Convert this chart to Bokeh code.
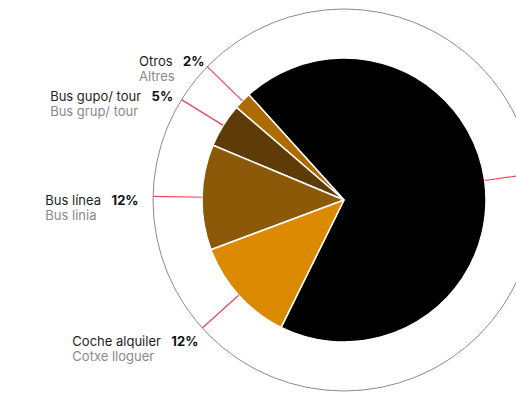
import math
import subprocess
from bokeh.plotting import figure
from bokeh.models import Range1d
from bokeh.core.properties import value
from bokeh.embed import file_html
from bokeh.resources import INLINE

# ---- data ----
names_es = ["Coche privado", "Otros", "Bus gupo/ tour", "Bus línea", "Coche alquiler"]
names_ca = ["Cotxe privat", "Altres", "Bus grup/ tour", "Bus linia", "Cotxe lloguer"]
shares = [69, 2, 5, 12, 12]
colors = ["#000000", "#AE6C00", "#5E3B07", "#8B5907", "#DB8A00"]
show_label = [False, True, True, True, True]   # the big slice's label lies beyond the page

# ---- layout (screen px) ----
W, H = 516, 395
CX, CY = 343.5, 195.5
R_PIE, R_RING = 142, 191
LAB_RX, LAB_DX = 232, 26.5     # horizontal placement of label blocks
LAB_RY, LAB_DY = 205, -4       # vertical placement of label blocks
START_DEG = -116.3
FONT = "Inter"
FS = 13


def text_width(s, size, bold=False):
    try:
        from PIL import ImageFont
        pat = FONT + (":bold" if bold else "")
        path = subprocess.run(["fc-match", "-f", "%{file}", pat],
                              capture_output=True, text=True).stdout.strip()
        f = ImageFont.truetype(path, 100)
        if bold:
            try:
                f.set_variation_by_name("Bold")
            except Exception:
                pass
        return f.getlength(s) * size / 100.0
    except Exception:
        return len(s) * size * (0.6 if bold else 0.56)


p = figure(width=W, height=H, output_backend="svg", toolbar_location=None,
           x_range=Range1d(0, W), y_range=Range1d(0, H), min_border=0)
p.axis.visible = False
p.grid.visible = False
p.outline_line_color = None
p.background_fill_color = "white"

total = float(sum(shares))
starts, ends, mids = [], [], []
a = math.radians(START_DEG)
for v in shares:
    span = 2 * math.pi * v / total
    starts.append(a)
    ends.append(a + span)
    mids.append(a + span / 2)
    a += span

# outer thin ring
p.circle(x=[CX], y=[CY], radius=R_RING, fill_color=None,
         line_color="#8c8c8c", line_width=1)

# pie
p.wedge(x=[CX] * len(shares), y=[CY] * len(shares), radius=R_PIE,
        start_angle=starts, end_angle=ends, direction="anticlock",
        fill_color=colors, line_color="white", line_width=1.5)

# red leader lines between pie and ring
x0 = [CX + R_PIE * math.cos(m) for m in mids]
y0 = [CY + R_PIE * math.sin(m) for m in mids]
x1 = [CX + R_RING * math.cos(m) for m in mids]
y1 = [CY + R_RING * math.sin(m) for m in mids]
p.segment(x0=x0, y0=y0, x1=x1, y1=y1, line_color="#e8445a", line_width=1.2)

# labels
GAP = 10.5
for i, m in enumerate(mids):
    if not show_label[i]:
        continue
    ax = CX + LAB_RX * math.cos(m) + LAB_DX
    ay = CY + LAB_RY * math.sin(m) + LAB_DY
    pct = f"{shares[i]}%"
    wp = text_width(pct, FS, bold=True)
    wn = text_width(names_es[i], FS)
    left = ax - wp - GAP - wn
    p.text(x=[ax], y=[ay], text=[pct], text_align="right", text_baseline="middle",
           text_font=value(FONT), text_font_size=f"{FS}px", text_font_style="bold",
           text_color="#111111")
    p.text(x=[left], y=[ay], text=[names_es[i]], text_align="left", text_baseline="middle",
           text_font=value(FONT), text_font_size=f"{FS}px", text_color="#1e1e1e")
    p.text(x=[left], y=[ay - 15], text=[names_ca[i]], text_align="left", text_baseline="middle",
           text_font=value(FONT), text_font_size=f"{FS}px", text_color="#8a8a8a")

open("out.html", "w").write(file_html(p, INLINE))
